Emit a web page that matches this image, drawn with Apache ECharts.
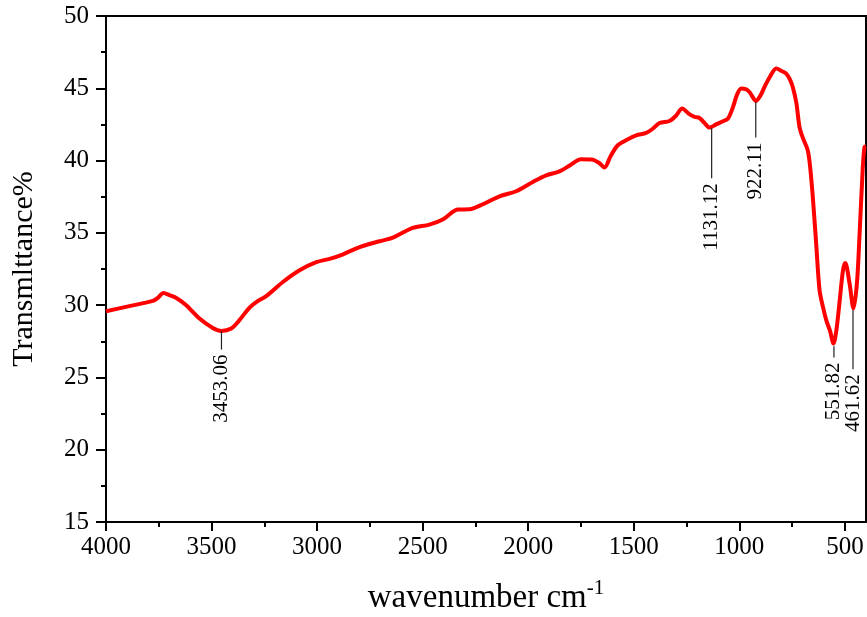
<!DOCTYPE html>
<html>
<head>
<meta charset="utf-8">
<script src="https://cdn.jsdelivr.net/npm/echarts@6/dist/echarts.min.js"></script>
<style>
html,body{margin:0;padding:0;background:#fff;}
#chart{width:867px;height:617px;}
</style>
</head>
<body>
<div id="chart"></div>
<script>
// FTIR spectrum (wavenumber, transmittance %)
const wavenumber = [4000,3900,3778,3755,3728,3700,3667,3620,3557,3494,3454,3407,3368,3320,3280,3241,3162,3083,3004,2941,2880,2799,2704,2641,2547,2468,2405,2334,2278,2215,2136,2057,1978,1915,1852,1800,1750,1700,1665,1639,1610,1576,1530,1489,1441,1410,1378,1331,1300,1271,1240,1212,1189,1165,1141,1110,1078,1054,1030,1010,991,970,952,935,922,900,881,855,825,800,778,760,747,730,715,700,676,665,652,636,620,604,588,570,554,540,526,509,498,478,459,443,431,415,407,400];
const transmittance = [29.58,29.9,30.29,30.5,30.84,30.7,30.5,30.0,29.07,28.42,28.22,28.38,28.96,29.83,30.3,30.62,31.6,32.41,32.97,33.2,33.5,34.02,34.42,34.67,35.34,35.57,35.92,36.61,36.63,36.98,37.53,37.88,38.52,38.98,39.25,39.7,40.1,40.08,39.85,39.52,40.3,41.06,41.45,41.75,41.91,42.2,42.6,42.74,43.1,43.6,43.25,43.02,42.95,42.6,42.28,42.5,42.72,42.9,43.7,44.6,44.98,44.95,44.74,44.35,44.12,44.5,45.09,45.8,46.36,46.2,46.02,45.6,45.09,44.0,42.32,41.6,40.71,39.6,37.48,34.25,31.03,29.88,28.95,28.2,27.34,28.3,30.11,32.41,32.92,31.5,29.76,31.5,34.72,39.56,40.94,41.0];

// Peak annotations
const peakWn = [3453.06, 1131.12, 922.11, 551.82, 461.62];
const peakLabels = ['3453.06', '1131.12', '922.11', '551.82', '461.62'];
const peakLineTop = [28.19, 42.23, 44.06, 27.16, 29.65];
const peakLineBottom = [26.93, 38.77, 41.59, 26.38, 25.57];

// Axis tick labels
const xTicks = [4000, 3500, 3000, 2500, 2000, 1500, 1000, 500];
const yMin = 15, yMax = 50, yStep = 5;

const FONT = 'Liberation Serif';
const chart = echarts.init(document.getElementById('chart'), null, {renderer: 'canvas'});

const lineData = wavenumber.map((w, i) => [w, transmittance[i]]);
const peakData = peakWn.map((w, i) => [w, peakLineTop[i], peakLineBottom[i]]);

chart.setOption({
  animation: false,
  backgroundColor: '#fff',
  grid: {left: 106, right: 1, top: 16, bottom: 95, containLabel: false, outerBoundsMode: 'none',
         show: true, borderColor: '#000', borderWidth: 2, backgroundColor: 'transparent'},
  xAxis: {
    type: 'value', inverse: true, min: 400, max: 4000, splitNumber: 7,
    name: '{a|wavenumber cm}{s|-1}',
    nameLocation: 'middle', nameGap: 56,
    nameTextStyle: {
      rich: {
        a: {fontFamily: FONT, fontSize: 33, color: '#000'},
        s: {fontFamily: FONT, fontSize: 21, color: '#000', padding: [0, 0, 20, 0]}
      }
    },
    axisLine: {show: true, onZero: false, lineStyle: {color: '#000', width: 2}},
    axisTick: {show: true, inside: false, length: 9, lineStyle: {color: '#000', width: 2}, customValues: xTicks},
    minorTick: {show: true, splitNumber: 2, length: 5, lineStyle: {color: '#000', width: 2}},
    splitLine: {show: false},
    axisLabel: {customValues: xTicks, margin: 13, fontFamily: FONT, fontSize: 25, color: '#000',
                formatter: function (v) { return String(v); }}
  },
  yAxis: {
    type: 'value', min: yMin, max: yMax, interval: yStep,
    name: 'Transmlttance%', nameLocation: 'middle', nameGap: 67,
    nameTextStyle: {fontFamily: FONT, fontSize: 30, color: '#000'},
    axisLine: {show: true, onZero: false, lineStyle: {color: '#000', width: 2}},
    axisTick: {show: true, inside: false, length: 10, lineStyle: {color: '#000', width: 2}},
    minorTick: {show: true, splitNumber: 2, length: 5, lineStyle: {color: '#000', width: 2}},
    splitLine: {show: false},
    axisLabel: {margin: 17, fontFamily: FONT, fontSize: 25, color: '#000',
                formatter: function (v) { return String(v); }}
  },
  series: [
    {
      type: 'line', data: lineData, smooth: 0.3, symbol: 'none', z: 3,
      lineStyle: {color: '#ff0000', width: 4}
    },
    {
      type: 'custom', data: peakData, z: 4,
      encode: {x: 0, y: 1},
      renderItem: function (params, api) {
        const p1 = api.coord([api.value(0), api.value(1)]);
        const p2 = api.coord([api.value(0), api.value(2)]);
        return {
          type: 'group',
          children: [
            {type: 'line', shape: {x1: p1[0], y1: p1[1], x2: p2[0], y2: p2[1]}, style: {stroke: '#222', lineWidth: 1.2}},
            {type: 'text', x: p2[0], y: p2[1] + 5, rotation: Math.PI / 2,
             style: {text: peakLabels[params.dataIndex], align: 'right', verticalAlign: 'middle', fontFamily: FONT, fontSize: 21, fill: '#000'}}
          ]
        };
      }
    }
  ]
});
</script>
</body>
</html>
